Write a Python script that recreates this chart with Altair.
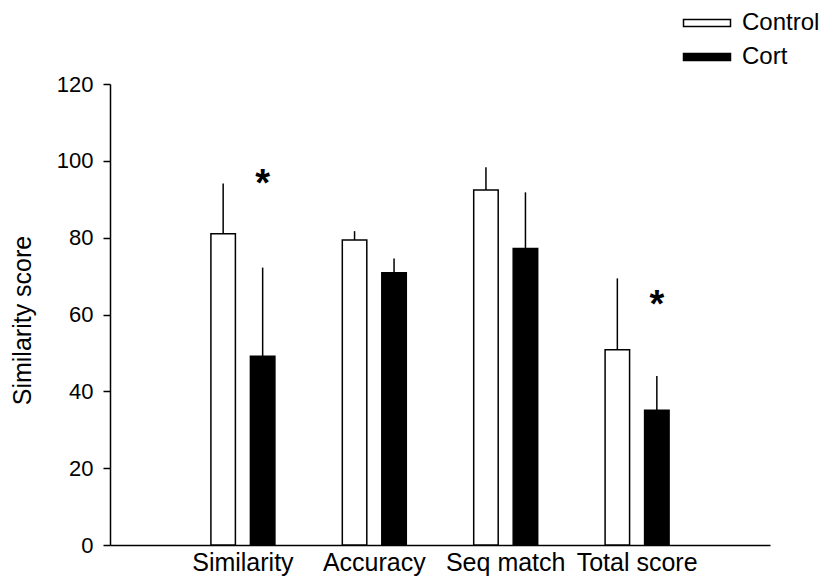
import altair as alt
import pandas as pd

categories = ["Similarity", "Accuracy", "Seq match", "Total score"]
groups = ["Control", "Cort"]
control_mean = [81.0, 79.4, 92.4, 50.8]
control_sem = [13.1, 2.3, 5.9, 18.6]
cort_mean = [49.1, 70.9, 77.2, 35.1]
cort_sem = [23.1, 3.7, 14.6, 8.9]
star_categories = ["Similarity", "Total score"]
star_values = [98.7, 67.2]
y_ticks = [0, 20, 40, 60, 80, 100, 120]

rows = []
for i, c in enumerate(categories):
    rows.append(dict(category=c, group="Control", mean=control_mean[i],
                     upper=control_mean[i] + control_sem[i]))
    rows.append(dict(category=c, group="Cort", mean=cort_mean[i],
                     upper=cort_mean[i] + cort_sem[i]))
df = pd.DataFrame(rows)
stars = pd.DataFrame(dict(category=star_categories, group=["Cort"] * len(star_categories),
                          y=star_values, label=["*"] * len(star_categories)))

FONT = "Liberation Sans"

x = alt.X("category:N", sort=categories,
          scale=alt.Scale(domain=categories, paddingInner=0.513, paddingOuter=0.768),
          axis=alt.Axis(title=None, labelAngle=0, ticks=False, labelPadding=5,
                        labelFontSize=25))
xo = alt.XOffset("group:N", sort=groups,
                 scale=alt.Scale(domain=groups, paddingInner=0.38, paddingOuter=0))
y = alt.Y("mean:Q", scale=alt.Scale(domain=[0, 120], nice=False),
          axis=alt.Axis(values=y_ticks, title="Similarity score", titleFontSize=25,
                        titleFontWeight="normal", titleX=-80, titleY=236,
                        titleBaseline="alphabetic", labelFontSize=22, labelPadding=10,
                        tickSize=7, grid=False))

bars = alt.Chart(df).mark_bar(stroke="black", strokeWidth=1.5).encode(
    x=x, xOffset=xo, y=y,
    fill=alt.Fill("group:N", scale=alt.Scale(domain=groups, range=["white", "black"]),
                  legend=alt.Legend(title=None, orient="none", legendX=585, legendY=-73,
                                    symbolType="M-2.35,-0.35H2.35V0.35H-2.35Z", symbolSize=400,
                                    symbolStrokeColor="black", symbolStrokeWidth=1.5,
                                    labelFontSize=24, labelOffset=23, rowPadding=10,
                                    padding=0, labelFont=FONT, labelColor="black")),
)

err = alt.Chart(df).mark_rule(color="black", strokeWidth=1.5).encode(
    x=x, xOffset=xo, y="mean:Q", y2="upper:Q"
)

star = alt.Chart(stars).mark_text(fontSize=38, fontWeight="bold", baseline="top",
                                  font=FONT, color="black").encode(
    x=x, xOffset=xo, y="y:Q", text="label:N"
)

chart = alt.layer(bars, err, star).properties(
    width=660, height=461,
    autosize=alt.AutoSizeParams(type="none"),
    padding={"left": 102, "top": 76, "right": 55, "bottom": 31},
).configure_view(stroke=None).configure_axis(
    labelFont=FONT, titleFont=FONT, labelColor="black", titleColor="black",
    domainColor="black", domainWidth=1.5, tickColor="black", tickWidth=1.5,
).configure_legend(labelFont=FONT)

chart.save("out.html", embed_options={"renderer": "svg", "actions": False})
